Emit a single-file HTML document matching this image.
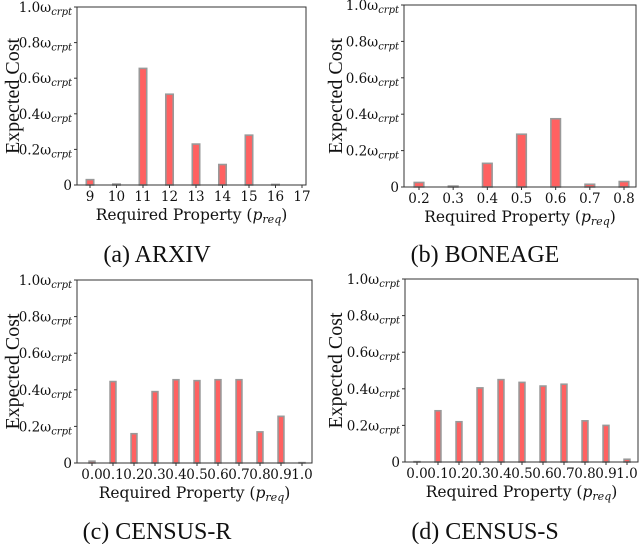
<!DOCTYPE html>
<html><head><meta charset="utf-8"><style>
body{margin:0;background:#fff;width:640px;height:544px;overflow:hidden}
svg{display:block}
.tk{font-family:"DejaVu Serif","Liberation Serif",serif;font-size:13.5px;fill:#111}
.xl{font-family:"DejaVu Serif","Liberation Serif",serif;font-size:15.5px;fill:#111}
.yl{font-family:"Liberation Serif",serif;font-size:20px;fill:#111}
.cap{font-family:"Liberation Serif",serif;font-size:24px;fill:#111}
</style></head><body>
<svg id="s" width="640" height="544"></svg>
<script>
const catsA=["9","10","11","12","13","14","15","16","17"];
const valsA=[0.03,0.005,0.655,0.51,0.23,0.115,0.28,0.003,null];
const catsB=["0.2","0.3","0.4","0.5","0.6","0.7","0.8"];
const valsB=[0.025,0.005,0.13,0.29,0.375,0.015,0.03];
const catsC=["0.0","0.1","0.2","0.3","0.4","0.5","0.6","0.7","0.8","0.9","1.0"];
const valsC=[0.01,0.445,0.16,0.39,0.455,0.45,0.455,0.455,0.17,0.255,0.002];
const catsD=["0.0","0.1","0.2","0.3","0.4","0.5","0.6","0.7","0.8","0.9","1.0"];
const valsD=[0.002,0.28,0.22,0.405,0.45,0.435,0.415,0.425,0.225,0.2,0.015];
const yTicks=[0,0.2,0.4,0.6,0.8,1.0];
const yTickLabels=["0","0.2","0.4","0.6","0.8","1.0"];
const NS="http://www.w3.org/2000/svg";
const svg=document.getElementById('s');
function mk(t,a,p,txt){const e=document.createElementNS(NS,t);for(const k in a)e.setAttribute(k,a[k]);if(txt!==undefined)e.textContent=txt;(p||svg).appendChild(e);return e;}
function panel(id,cats,vals,L,R,T,B,x0,x1,cap,capX,capY,ylX){
  const g=mk('g',{});
  
  
  const n=cats.length;
  const xs=i=>x0+(x1-x0)*i/(n-1);
  const ys=v=>B-(B-T)*v;
  const bw=(x1-x0)/(n-1)*0.28;
  vals.forEach((v,i)=>{if(v===null)return;
    const r=mk('rect',{x:xs(i)-bw/2,y:ys(v),width:bw,height:B-ys(v),fill:'#ff6161',stroke:'#999',"stroke-width":1.6},g);
    
    });
  const ax=mk('rect',{x:L,y:T,width:R-L,height:B-T,fill:'none',stroke:'#333',"stroke-width":1},g);
  
  
  cats.forEach((c,i)=>{mk('line',{x1:xs(i),x2:xs(i),y1:B,y2:B+3,stroke:'#333'},g);
    const t=mk('text',{x:xs(i),y:B+16,"text-anchor":"middle",class:'tk'},g,c);
    
    });
  yTicks.forEach((v,i)=>{mk('line',{x1:L-3,x2:L,y1:ys(v),y2:ys(v),stroke:'#333'},g);
    const t=mk('text',{x:L-5,y:ys(v)+5,"text-anchor":"end",class:'tk'},g);
    
    
    if(v===0){t.textContent='0';}else{
      mk('tspan',{},t,yTickLabels[i]+'ω');
      mk('tspan',{dy:3,"font-size":"10px","font-style":"italic"},t,'crpt');}});
  const xl=mk('text',{x:(L+R)/2,y:B+35,"text-anchor":"middle",class:'xl'},g);
  
  
  mk('tspan',{},xl,'Required Property (');
  mk('tspan',{"font-style":"italic"},xl,'p');
  mk('tspan',{dy:3,"font-size":"11px","font-style":"italic"},xl,'req');
  mk('tspan',{dy:-3},xl,')');
  const yl=mk('text',{x:0,y:0,transform:`translate(${ylX},${(T+B)/2}) rotate(-90)`,"text-anchor":"middle",class:'yl'},g,'Expected Cost');
  
  
  const c=mk('text',{x:capX,y:capY,"text-anchor":"middle",class:'cap'},g,cap);
  
  
}
panel('a',catsA,valsA,77,306,7,185,90,302,'(a) ARXIV',157,262,19);
panel('b',catsB,valsB,404,636,5,187,419,624,'(b) BONEAGE',485,262,342);
panel('c',catsC,valsC,77,312,280,463,92,302,'(c) CENSUS-R',157,539,19);
panel('d',catsD,valsD,405,638,279,462,417,627,'(d) CENSUS-S',485,539,342);
</script>
</body></html>
